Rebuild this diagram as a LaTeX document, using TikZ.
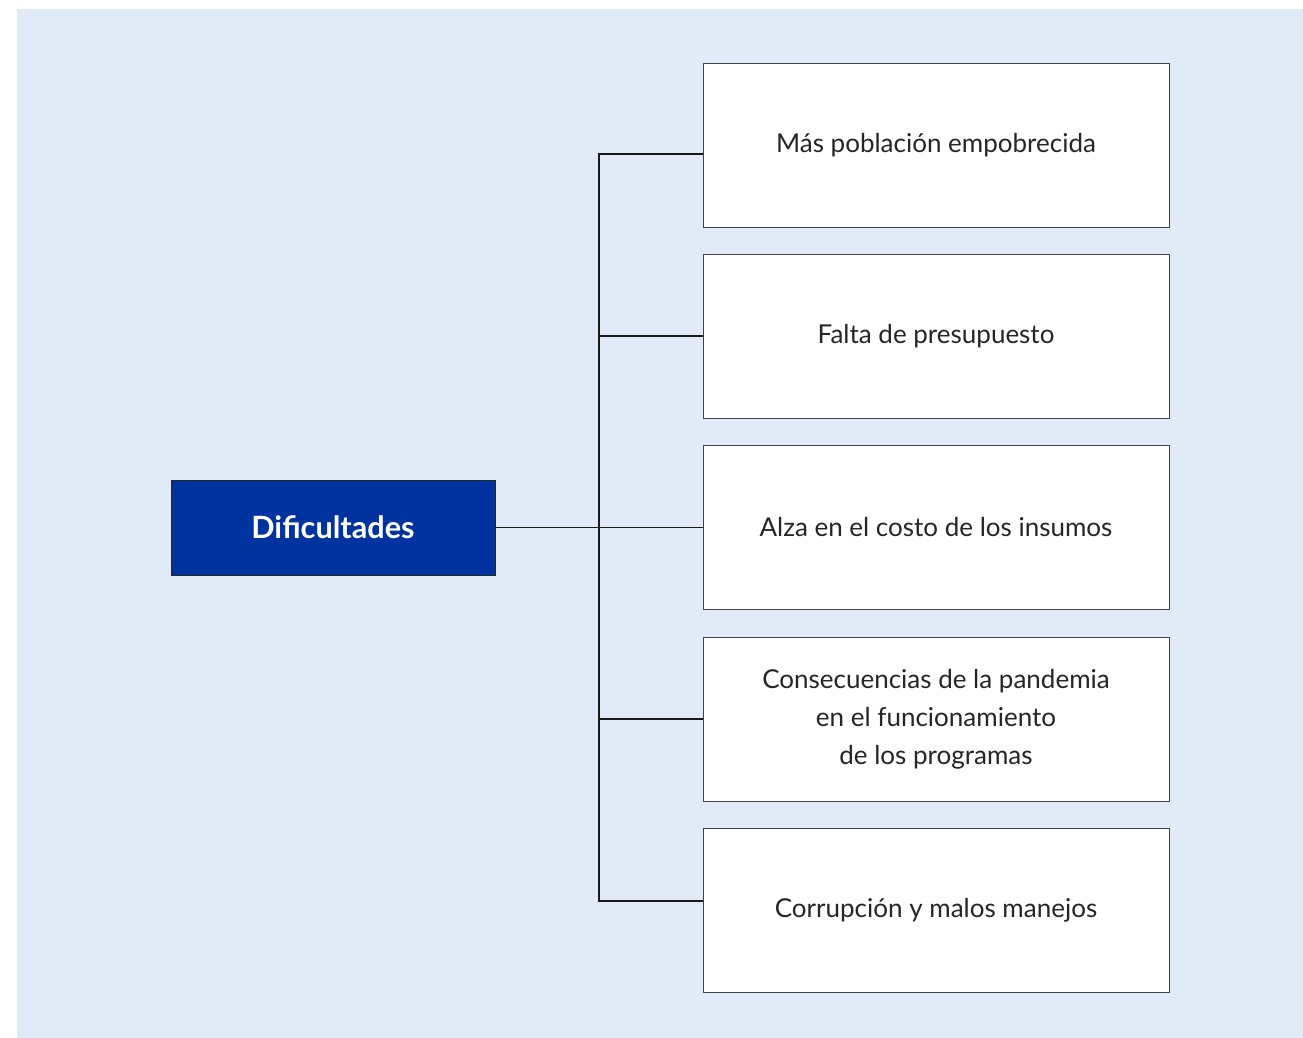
\documentclass[tikz,border=0pt]{standalone}
\usepackage{fontspec}
\setmainfont{Lato}
\usetikzlibrary{calc}
\definecolor{fondo}{HTML}{E1EBF7}
\definecolor{azul}{HTML}{0033A0}
\begin{document}
\begin{tikzpicture}[x=0.75pt,y=-0.75pt,
    caja/.style={draw=black!75,fill=white,minimum width=349.5pt,minimum height=123pt,
      inner sep=0pt,align=center,font=\fontsize{19.5}{28.5}\selectfont,text=black!85},
    tema/.style={draw=black!85,fill=azul,text=white,minimum width=243pt,minimum height=71.25pt,
      inner sep=0pt,font=\bfseries\fontsize{23}{26}\selectfont},
    rama/.style={line width=1pt,black!90}]
    \useasboundingbox(0,0)rectangle(1303,1038);
    \fill[fondo](17,9)rectangle(1303,1038);
    \node[tema](dif)at(333,527.5){Dificultades};
    \node[caja](m1)at(936,145){Más población empobrecida};
    \node[caja](m2)at(936,336){Falta de presupuesto};
    \node[caja](m3)at(936,527.5){Alza en el costo de los insumos};
    \node[caja](m4)at(936,719){Consecuencias de la pandemia\\en el funcionamiento\\de los programas};
    \node[caja](m5)at(936,910){Corrupción y malos manejos};
    \coordinate(T)at(599,527.5);
    \coordinate(a1)at([yshift=-6.75pt]m1.west);
    \coordinate(a5)at([yshift=6.75pt]m5.west);
    \draw[rama](a1)--(a1-|T)--(a5-|T)--(a5);
    \draw[rama](dif.east)--(m3.west);
    \draw[rama](T|-m2.west)--(m2.west) (T|-m4.west)--(m4.west);
  \end{tikzpicture}
\end{document}
